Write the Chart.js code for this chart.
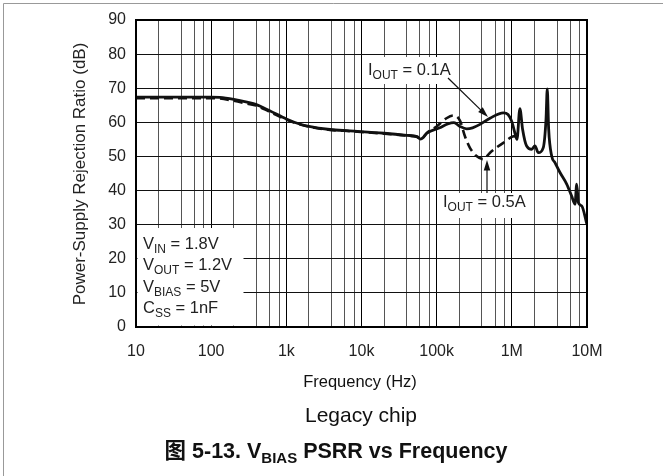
<!DOCTYPE html>
<html>
<head>
<meta charset="utf-8">
<script src="https://cdn.jsdelivr.net/npm/chart.js@4.4.1/dist/chart.umd.min.js"></script>
<style>
  html, body { margin: 0; padding: 0; background: #fff; }
  canvas { display: block; }
</style>
</head>
<body>
<canvas id="graficoPsrr" width="663" height="476"></canvas>
<script>
// ==========================================================================
// DATOS (Hz / dB)
// ==========================================================================
const frecuencias01 = [10, 50, 100, 130, 200, 300, 400, 600, 1000, 1500, 2000, 3800, 7000, 20000, 40000, 55000, 61000, 66000, 74000, 110000, 140000, 170000, 204000, 251000, 300000, 377000, 512000, 770000, 890000, 1000000, 1100000, 1170000, 1280000, 1390000, 1570000, 1840000, 2030000, 2250000, 2620000, 2850000, 2960000, 3090000, 3390000, 3750000, 4370000, 5370000, 6250000, 6920000, 7300000, 7670000, 8500000, 10000000];
const psrr01 = [67.4, 67.4, 67.4, 67.3, 66.7, 65.9, 65.2, 63.4, 61.0, 59.5, 58.8, 57.9, 57.5, 56.8, 56.2, 55.8, 55.1, 55.5, 56.8, 58.4, 59.5, 59.9, 58.8, 58.1, 58.4, 59.4, 61.2, 62.8, 62.3, 60.2, 56.8, 55.0, 64.0, 58.0, 53.1, 52.1, 53.1, 51.1, 52.6, 60.9, 69.8, 58.0, 50.1, 48.2, 45.3, 41.9, 38.4, 36.0, 41.9, 36.5, 35.5, 30.0];

const frecuencias05 = [10, 50, 100, 130, 200, 300, 400, 600, 1000, 1500, 2000, 3800, 7000, 20000, 40000, 55000, 61000, 66000, 74000, 100000, 135000, 166000, 204000, 237000, 276000, 339000, 417000, 513000, 770000, 1100000, 1170000];
const psrr05 = [67.1, 67.1, 67.1, 67.0, 66.3, 65.5, 64.9, 63.1, 60.8, 59.4, 58.7, 57.8, 57.4, 56.7, 56.1, 55.7, 55.1, 55.6, 56.9, 58.8, 61.2, 62.0, 60.5, 56.0, 52.6, 50.1, 49.2, 51.1, 54.0, 56.0, 55.0];

const decadas = [10, 100, 1e3, 1e4, 1e5, 1e6, 1e7];
const etiquetasX = ['10', '100', '1k', '10k', '100k', '1M', '10M'];
const marcasMenores = [2, 4, 6, 8];

const fuente = '"Liberation Sans", "Noto Sans CJK SC", Arial, sans-serif';

// valores de las líneas verticales de la rejilla
const valoresX = [];
decadas.forEach(d => {
    valoresX.push(d);
    if (d < 1e7) marcasMenores.forEach(m => valoresX.push(m * d));
});

// Dibuja texto con subíndices: partes = [[texto, esSub], ...]
function textoConSub(ctx, partes, x, y, tam, negrita, alinear) {
    const peso = negrita ? 'bold ' : '';
    const tamSub = Math.round(tam * 0.72);
    let ancho = 0;
    partes.forEach(p => {
        ctx.font = peso + (p[1] ? tamSub : tam) + 'px ' + fuente;
        ancho += ctx.measureText(p[0]).width;
    });
    let cx = alinear === 'center' ? x - ancho / 2 : x;
    ctx.textBaseline = 'middle';
    ctx.textAlign = 'left';
    partes.forEach(p => {
        ctx.font = peso + (p[1] ? tamSub : tam) + 'px ' + fuente;
        ctx.fillText(p[0], cx, p[1] ? y + tam * 0.32 : y);
        cx += ctx.measureText(p[0]).width;
    });
}

function flecha(ctx, x1, y1, x2, y2) {
    const ang = Math.atan2(y2 - y1, x2 - x1);
    const largo = 11, abre = 0.3;
    ctx.beginPath();
    ctx.moveTo(x1, y1);
    ctx.lineTo(x2 - Math.cos(ang) * largo * 0.8, y2 - Math.sin(ang) * largo * 0.8);
    ctx.lineWidth = 1.2;
    ctx.strokeStyle = '#111';
    ctx.stroke();
    ctx.beginPath();
    ctx.moveTo(x2, y2);
    ctx.lineTo(x2 - largo * Math.cos(ang - abre), y2 - largo * Math.sin(ang - abre));
    ctx.lineTo(x2 - largo * Math.cos(ang + abre), y2 - largo * Math.sin(ang + abre));
    ctx.closePath();
    ctx.fillStyle = '#111';
    ctx.fill();
}

// Cajas blancas debajo de las etiquetas (tapan la rejilla)
const pluginCajas = {
    id: 'cajas',
    beforeDatasetsDraw(chart) {
        const ctx = chart.ctx;
        ctx.save();
        ctx.fillStyle = '#fff';
        ctx.fillRect(137.5, 228, 106, 97.5);
        ctx.fillRect(364, 57, 94, 27);
        ctx.fillRect(437, 193, 94, 25);
        ctx.restore();
    },
    afterDraw(chart) {
        const ctx = chart.ctx;
        const a = chart.chartArea;
        ctx.save();

        // marco del área
        ctx.strokeStyle = '#000';
        ctx.lineWidth = 2;
        ctx.strokeRect(a.left, a.top, a.right - a.left, a.bottom - a.top);

        // marco de la figura
        ctx.strokeStyle = '#999';
        ctx.lineWidth = 1;
        ctx.beginPath();
        ctx.moveTo(3.5, 476);
        ctx.lineTo(3.5, 3.5);
        ctx.lineTo(663, 3.5);
        ctx.stroke();

        ctx.fillStyle = '#222';
        // condiciones
        textoConSub(ctx, [['V', false], ['IN', true], [' = 1.8V', false]], 143, 244, 16.5);
        textoConSub(ctx, [['V', false], ['OUT', true], [' = 1.2V', false]], 143, 265.5, 16.5);
        textoConSub(ctx, [['V', false], ['BIAS', true], [' = 5V', false]], 143, 287, 16.5);
        textoConSub(ctx, [['C', false], ['SS', true], [' = 1nF', false]], 143, 308.5, 16.5);

        // etiquetas de las curvas
        textoConSub(ctx, [['I', false], ['OUT', true], [' = 0.1A', false]], 368, 70, 16.5);
        textoConSub(ctx, [['I', false], ['OUT', true], [' = 0.5A', false]], 443, 202, 16.5);
        flecha(ctx, 448, 78, 488, 117);
        flecha(ctx, 487, 193, 487, 160);

        // títulos
        ctx.fillStyle = '#111';
        ctx.font = '16.5px ' + fuente;
        ctx.textAlign = 'center';
        ctx.textBaseline = 'middle';
        ctx.fillText('Frequency (Hz)', 360, 382);
        ctx.font = '21px ' + fuente;
        ctx.fillText('Legacy chip', 361, 416);
        textoConSub(ctx, [['图 5-13. V', false], ['BIAS', true], [' PSRR vs Frequency', false]], 336, 452, 21.5, true, 'center');

        ctx.save();
        ctx.translate(80, 174);
        ctx.rotate(-Math.PI / 2);
        ctx.font = '17px ' + fuente;
        ctx.fillStyle = '#222';
        ctx.textAlign = 'center';
        ctx.textBaseline = 'middle';
        ctx.fillText('Power-Supply Rejection Ratio (dB)', 0, 0);
        ctx.restore();

        ctx.restore();
    }
};

document.addEventListener('DOMContentLoaded', function () {
    const ctx = document.getElementById('graficoPsrr');

    new Chart(ctx.getContext('2d'), {
        type: 'line',
        data: {
            datasets: [{
                label: 'IOUT = 0.1A',
                data: frecuencias01.map((f, i) => ({ x: f, y: psrr01[i] })),
                borderColor: '#111',
                borderWidth: 2.8,
                pointRadius: 0,
                cubicInterpolationMode: 'monotone',
                fill: false
            }, {
                label: 'IOUT = 0.5A',
                data: frecuencias05.map((f, i) => ({ x: f, y: psrr05[i] })),
                borderColor: '#111',
                borderWidth: 2.6,
                borderDash: [9, 5],
                pointRadius: 0,
                cubicInterpolationMode: 'monotone',
                fill: false
            }]
        },
        options: {
            responsive: false,
            animation: false,
            layout: { padding: { left: 0, right: 76, top: 20, bottom: 0 } },
            plugins: {
                legend: { display: false },
                tooltip: { enabled: false }
            },
            scales: {
                x: {
                    type: 'logarithmic',
                    min: 10,
                    max: 1e7,
                    afterBuildTicks: s => { s.ticks = valoresX.map(v => ({ value: v })); },
                    afterFit: s => { s.height = 149; },
                    ticks: {
                        autoSkip: false,
                        maxRotation: 0,
                        minRotation: 0,
                        padding: 15,
                        color: '#222',
                        font: { family: fuente, size: 16 },
                        callback: v => {
                            const i = decadas.indexOf(v);
                            return i >= 0 ? etiquetasX[i] : '';
                        }
                    },
                    grid: {
                        drawTicks: false,
                        color: c => (c.tick && decadas.includes(c.tick.value)) ? '#000' : '#555',
                        lineWidth: 1
                    },
                    border: { color: '#000', width: 2 }
                },
                y: {
                    min: 0,
                    max: 90,
                    afterFit: s => { s.width = 136; },
                    ticks: {
                        stepSize: 10,
                        padding: 10,
                        color: '#222',
                        font: { family: fuente, size: 16 }
                    },
                    grid: { drawTicks: false, color: '#111', lineWidth: 1 },
                    border: { color: '#000', width: 2 }
                }
            }
        },
        plugins: [pluginCajas]
    });
});
</script>
</body>
</html>
